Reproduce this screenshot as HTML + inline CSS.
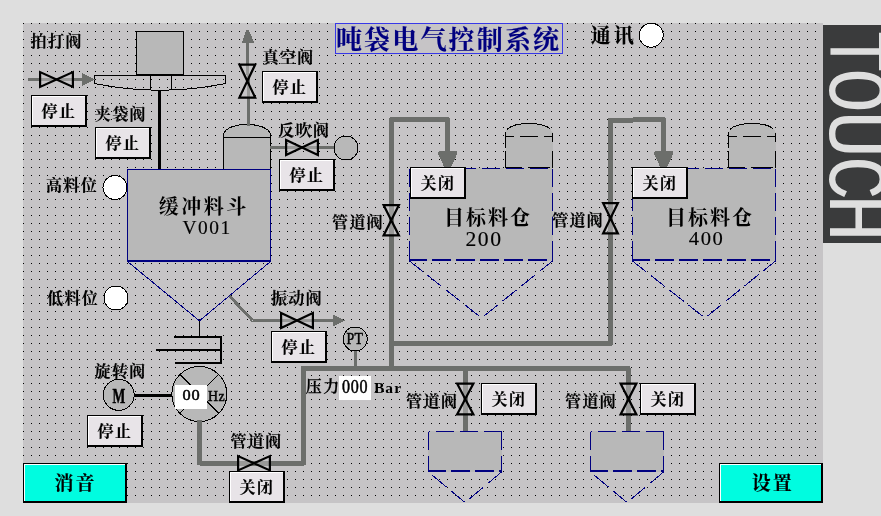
<!DOCTYPE html>
<html lang="zh-CN"><head><meta charset="utf-8"><title>吨袋电气控制系统</title>
<style>
html,body{margin:0;padding:0;background:#dedede;overflow:hidden}
svg{display:block;will-change:transform}
text{font-family:"Liberation Serif","Noto Serif CJK SC",serif;stroke:#000;stroke-width:0} text.navy{stroke:#000080} text.sans,text.mono{stroke:none} text.sans{font-family:"Liberation Sans","Noto Sans CJK SC",sans-serif} text.mono{font-family:"Liberation Mono","Noto Sans CJK SC",monospace}
</style></head><body>
<svg width="881" height="516" viewBox="0 0 881 516" shape-rendering="crispEdges">
<defs><pattern id="dots" x="23" y="23" width="8" height="8" patternUnits="userSpaceOnUse"><rect x="0" y="0" width="1" height="1" fill="#000"/></pattern>
</defs>
<rect x="0" y="0" width="881" height="516" fill="#dedede"/>
<rect x="23" y="23" width="800" height="480" fill="#c6c4c6"/>
<rect x="23" y="23" width="800" height="480" fill="url(#dots)"/>
<rect x="823" y="25" width="58" height="218" fill="#3a3b3c"/>
<text class="mono" transform="translate(829.8,0) rotate(90)" y="0" font-size="84" fill="#dedede"><tspan x="29.9" textLength="43" lengthAdjust="spacingAndGlyphs">T</tspan><tspan x="68" textLength="45" lengthAdjust="spacingAndGlyphs">O</tspan><tspan x="110.5" textLength="47.5" lengthAdjust="spacingAndGlyphs">U</tspan><tspan x="156" textLength="44" lengthAdjust="spacingAndGlyphs">C</tspan><tspan x="194" textLength="48" lengthAdjust="spacingAndGlyphs">H</tspan></text>
<rect x="335.5" y="23.5" width="227" height="30" fill="#c6c4c6" stroke="#3838e8" stroke-width="1"/>
<text class="navy" x="335.95" y="49.35" font-size="26" font-weight="700" letter-spacing="2.16" fill="#000080" style="stroke-width:0.15px">吨袋电气控制系统</text>
<text x="590.80" y="42.90" font-size="20" font-weight="700" letter-spacing="3.0" style="stroke-width:0.15px">通讯</text>
<circle cx="651.2" cy="35.2" r="12" fill="#fff" stroke="#000" stroke-width="1"/>
<text x="30.62" y="47.25" font-size="16" font-weight="700" letter-spacing="1.4" style="stroke-width:0.15px">拍打阀</text>
<rect x="136.5" y="31.5" width="47" height="43" fill="#b8b8b8" stroke="#000"/>
<path d="M94.5 83.5V75.5H225.5V83.5Q160 97 94.5 83.5 M150.5 75.5V90 M171.5 75.5V90" fill="none" stroke="#000" stroke-width="1"/>
<path d="M136 75H184" stroke="#000" stroke-width="2" fill="none"/>
<path d="M28 79.5H84" fill="none" stroke="#6c6e6b" stroke-width="3" stroke-linejoin="round" />
<path d="M82.1 73L94.8 79.45L82.1 85.9Z" fill="#6c6e6b"/>
<path d="M40.1 72.1L40.1 86.9L56.5 79.5Z M72.9 72.1L72.9 86.9L56.5 79.5Z" fill="#c6c4c6" fill-opacity="0.5" stroke="#000" stroke-width="2.2" stroke-linejoin="miter" shape-rendering="geometricPrecision"/>
<rect x="31" y="95" width="56" height="32" fill="#000"/><rect x="32" y="96" width="53" height="29" fill="#fff"/><rect x="33" y="97" width="52" height="28" fill="#e8e4e8"/>
<text x="41.50" y="117.00" font-size="16" font-weight="700" letter-spacing="1.4" style="stroke-width:0.15px">停止</text>
<text x="94.80" y="120.15" font-size="16" font-weight="700" letter-spacing="1.4" style="stroke-width:0.15px">夹袋阀</text>
<rect x="95" y="127" width="56" height="32" fill="#000"/><rect x="96" y="128" width="53" height="29" fill="#fff"/><rect x="97" y="129" width="52" height="28" fill="#e8e4e8"/>
<text x="105.50" y="149.00" font-size="16" font-weight="700" letter-spacing="1.4" style="stroke-width:0.15px">停止</text>
<path d="M159.5 90V169" fill="none" stroke="#000" stroke-width="3" stroke-linejoin="round" />
<text x="46.00" y="191.25" font-size="16" font-weight="700" letter-spacing="1.4" style="stroke-width:0.15px">高料位</text>
<circle cx="115" cy="187.5" r="12" fill="#fff" stroke="#000" stroke-width="1"/>
<text x="47.05" y="303.60" font-size="16" font-weight="700" letter-spacing="1.4" style="stroke-width:0.15px">低料位</text>
<circle cx="116" cy="298" r="12" fill="#fff" stroke="#000" stroke-width="1"/>
<path d="M223.5 169V134.2C227 121.2 267 121.2 270.5 134.2V169Z M223.5 137.5H270.5" fill="#b8b8b8" stroke="#000" stroke-width="1"/>
<path d="M247.6 40L248.6 126" fill="none" stroke="#6c6e6b" stroke-width="3" stroke-linejoin="round" />
<path d="M241.9 42.7L246.4 30H248.8L254.1 42.7Z" fill="#6c6e6b"/>
<path d="M239.4 64.6L255.20000000000002 64.6L247.3 81.1Z M239.4 97.60000000000001L255.20000000000002 97.60000000000001L247.3 81.1Z" fill="#c6c4c6" fill-opacity="0.5" stroke="#000" stroke-width="2.2" stroke-linejoin="miter" shape-rendering="geometricPrecision"/>
<text x="262.38" y="63.25" font-size="16" font-weight="700" letter-spacing="1.4" style="stroke-width:0.15px">真空阀</text>
<rect x="262" y="71" width="56" height="32" fill="#000"/><rect x="263" y="72" width="53" height="29" fill="#fff"/><rect x="264" y="73" width="52" height="28" fill="#e8e4e8"/>
<text x="272.50" y="93.00" font-size="16" font-weight="700" letter-spacing="1.4" style="stroke-width:0.15px">停止</text>
<text x="278.25" y="135.50" font-size="16" font-weight="700" letter-spacing="1.4" style="stroke-width:0.15px">反吹阀</text>
<path d="M270 147.5H335" fill="none" stroke="#6c6e6b" stroke-width="3" stroke-linejoin="round" />
<path d="M286.1 140.1L286.1 154.9L302.0 147.5Z M317.9 140.1L317.9 154.9L302.0 147.5Z" fill="#c6c4c6" fill-opacity="0.5" stroke="#000" stroke-width="2.2" stroke-linejoin="miter" shape-rendering="geometricPrecision"/>
<circle cx="346" cy="148" r="12" fill="#b8b8b8" stroke="#000" stroke-width="1"/>
<rect x="279" y="159" width="56" height="32" fill="#000"/><rect x="280" y="160" width="53" height="29" fill="#fff"/><rect x="281" y="161" width="52" height="28" fill="#e8e4e8"/>
<text x="289.50" y="181.00" font-size="16" font-weight="700" letter-spacing="1.4" style="stroke-width:0.15px">停止</text>
<rect x="127.5" y="169.5" width="143" height="91.5" fill="#b8b8b8" stroke="#000080" stroke-width="1"/>
<path d="M127 260.5H271" stroke="#000080" stroke-width="2" fill="none"/>
<path d="M127.5 261.5L199.4 320.8L270.5 261.5" stroke="#000080" stroke-width="1" fill="none"/>
<text x="158.75" y="213.80" font-size="20" font-weight="700" letter-spacing="2.5">缓冲料斗</text>
<text transform="translate(182.50,233.80) scale(0.998,1)" font-size="19.46" font-weight="400" letter-spacing="1.5" style="stroke-width:0.15px">V001</text>
<path d="M199.5 320.5V336" stroke="#000" stroke-width="1" fill="none"/>
<path d="M174 337H221V363H175 M156 350H221" stroke="#000" stroke-width="2" fill="none" stroke-linejoin="miter"/>
<circle cx="199.3" cy="394" r="27.5" fill="#b8b8b8" stroke="#000" stroke-width="1"/>
<path d="M179.8 374.5L218.8 413.5 M218.8 374.5L179.8 413.5" stroke="#000" stroke-width="1" fill="none"/>
<rect x="175" y="385" width="32" height="24" fill="#fff"/>
<text transform="translate(182.40,400.35) scale(1.075,1)" font-size="15.2" font-weight="400" letter-spacing="0.8" style="stroke-width:0.5px">00</text>
<text transform="translate(208.10,401.30) scale(0.911,1)" font-size="15.25" font-weight="400" letter-spacing="0.5" style="stroke-width:0.5px">Hz</text>
<circle cx="118.7" cy="394.8" r="15.5" fill="#b8b8b8" stroke="#000" stroke-width="1"/>
<text transform="translate(112.50,403.15) scale(0.668,1)" font-size="20.28" font-weight="700" style="stroke-width:0.5px">M</text>
<path d="M134.5 395.3H172" fill="none" stroke="#000" stroke-width="3" stroke-linejoin="round" />
<text x="94.50" y="377.38" font-size="16" font-weight="700" letter-spacing="1.4" style="stroke-width:0.15px">旋转阀</text>
<rect x="87" y="415" width="56" height="32" fill="#000"/><rect x="88" y="416" width="53" height="29" fill="#fff"/><rect x="89" y="417" width="52" height="28" fill="#e8e4e8"/>
<text x="97.50" y="437.00" font-size="16" font-weight="700" letter-spacing="1.4" style="stroke-width:0.15px">停止</text>
<path d="M229.5 296L252.5 320.5H334" fill="none" stroke="#6c6e6b" stroke-width="3" stroke-linejoin="round" />
<path d="M332.5 314L345.3 320.5L332.5 327Z" fill="#6c6e6b"/>
<path d="M281.1 313.1L281.1 327.9L297.0 320.5Z M312.9 313.1L312.9 327.9L297.0 320.5Z" fill="#c6c4c6" fill-opacity="0.5" stroke="#000" stroke-width="2.2" stroke-linejoin="miter" shape-rendering="geometricPrecision"/>
<text x="270.88" y="303.50" font-size="16" font-weight="700" letter-spacing="1.4" style="stroke-width:0.15px">振动阀</text>
<rect x="271" y="331" width="56" height="32" fill="#000"/><rect x="272" y="332" width="53" height="29" fill="#fff"/><rect x="273" y="333" width="52" height="28" fill="#e8e4e8"/>
<text x="281.50" y="353.00" font-size="16" font-weight="700" letter-spacing="1.4" style="stroke-width:0.15px">停止</text>
<path d="M355.5 350V367" fill="none" stroke="#6c6e6b" stroke-width="3" stroke-linejoin="round" />
<circle cx="355.2" cy="339" r="12" fill="#b8b8b8" stroke="#000" stroke-width="1"/>
<text transform="translate(346.40,344.05) scale(0.85,1)" font-size="16.2" font-weight="400" letter-spacing="0.5" style="stroke-width:0.5px">PT</text>
<text x="305.75" y="391.90" font-size="16" font-weight="600" letter-spacing="1.4" style="stroke-width:0.3px">压力</text>
<rect x="339" y="376" width="32" height="24" fill="#fff"/>
<text transform="translate(342.00,393.25) scale(0.879,1)" font-size="18.29" font-weight="400" letter-spacing="0.8" style="stroke-width:0.5px">000</text>
<text transform="translate(373.98,392.60) scale(1.02,1)" font-size="15.25" font-weight="700" letter-spacing="1">Bar</text>
<path d="M199.5 420V463H303.5V368H628V431" fill="none" stroke="#6c6e6b" stroke-width="5" stroke-linejoin="round" />
<path d="M465.5 368V431" fill="none" stroke="#6c6e6b" stroke-width="5" stroke-linejoin="round" />
<path d="M391.6 368V119.5H447.5V153" fill="none" stroke="#6c6e6b" stroke-width="5" stroke-linejoin="round" />
<path d="M440.5 153.4L454.7 153.4L447.6 168.3Z" fill="#6c6e6b" stroke="#6c6e6b" stroke-width="5" stroke-linejoin="round"/>
<path d="M391.5 343.5H610.2V120.3L663.7 119.6V153" fill="none" stroke="#6c6e6b" stroke-width="5" stroke-linejoin="round" />
<path d="M656.5 153.4L670.7 153.4L663.6 168.3Z" fill="#6c6e6b" stroke="#6c6e6b" stroke-width="5" stroke-linejoin="round"/>
<path d="M505.5 168V132C509 120.7 549 120.7 552.5 132V168Z" fill="#b8b8b8" stroke="none"/>
<path d="M505.5 132C509 120.7 549 120.7 552.5 132" fill="none" stroke="#000" stroke-width="1" stroke-dasharray="0 3 45 100"/>
<path d="M505.5 132V147.5 M505.5 150.5V168 M552.5 133V142 M552.5 150.5V168 M505.5 136.5H514.0 M520.0 136.5H538.0 M544.0 136.5H552.5 M505.5 167.5H522.0 M528.0 167.5H549.5" fill="none" stroke="#000" stroke-width="1"/>
<rect x="409" y="168" width="144" height="93" fill="#b8b8b8"/>
<path d="M409.5 168.5H552.5 M409.5 168.5V260.5 M552.5 168.5V260.5" fill="none" stroke="#000080" stroke-width="1" stroke-dasharray="18 6"/>
<path d="M409 260H553" fill="none" stroke="#000080" stroke-width="2" stroke-dasharray="19 5" stroke-dashoffset="1"/>
<path d="M481.5 318L409.5 261 M481.5 318L552.5 261" fill="none" stroke="#000080" stroke-width="1" stroke-dasharray="18 6" stroke-dashoffset="21"/>
<path d="M728.5 168V132C732 120.7 772 120.7 775.5 132V168Z" fill="#b8b8b8" stroke="none"/>
<path d="M728.5 132C732 120.7 772 120.7 775.5 132" fill="none" stroke="#000" stroke-width="1" stroke-dasharray="0 3 45 100"/>
<path d="M728.5 132V147.5 M728.5 150.5V168 M775.5 133V142 M775.5 150.5V168 M728.5 136.5H737.0 M743.0 136.5H761.0 M767.0 136.5H775.5 M728.5 167.5H745.0 M751.0 167.5H772.5" fill="none" stroke="#000" stroke-width="1"/>
<rect x="632" y="168" width="144" height="93" fill="#b8b8b8"/>
<path d="M632.5 168.5H775.5 M632.5 168.5V260.5 M775.5 168.5V260.5" fill="none" stroke="#000080" stroke-width="1" stroke-dasharray="18 6"/>
<path d="M632 260H776" fill="none" stroke="#000080" stroke-width="2" stroke-dasharray="19 5" stroke-dashoffset="1"/>
<path d="M705 318L632.5 261 M705 318L775.5 261" fill="none" stroke="#000080" stroke-width="1" stroke-dasharray="18 6" stroke-dashoffset="21"/>
<rect x="410" y="167" width="56" height="32" fill="#000"/><rect x="411" y="168" width="53" height="29" fill="#fff"/><rect x="412" y="169" width="52" height="28" fill="#e8e4e8"/>
<text x="420.55" y="189.15" font-size="16" font-weight="700" letter-spacing="1.4" style="stroke-width:0.15px">关闭</text>
<rect x="632" y="167" width="56" height="32" fill="#000"/><rect x="633" y="168" width="53" height="29" fill="#fff"/><rect x="634" y="169" width="52" height="28" fill="#e8e4e8"/>
<text x="642.55" y="189.15" font-size="16" font-weight="700" letter-spacing="1.4" style="stroke-width:0.15px">关闭</text>
<text x="443.90" y="225.35" font-size="20" font-weight="700" letter-spacing="2.0">目标料仓</text>
<text transform="translate(465.45,246.20) scale(1.053,1)" font-size="20.6" font-weight="400" letter-spacing="1.5" style="stroke-width:0.15px">200</text>
<text x="665.90" y="224.55" font-size="20" font-weight="700" letter-spacing="2.0">目标料仓</text>
<text transform="translate(688.80,244.60) scale(1.044,1)" font-size="19.73" font-weight="400" letter-spacing="1.5" style="stroke-width:0.15px">400</text>
<text x="332.00" y="227.90" font-size="16" font-weight="700" letter-spacing="1.4" style="stroke-width:0.15px">管道阀</text>
<path d="M383.6 205.1L398.9 205.1L391.25 220.25Z M383.6 235.4L398.9 235.4L391.25 220.25Z" fill="#c6c4c6" fill-opacity="0.5" stroke="#000" stroke-width="2.2" stroke-linejoin="miter" shape-rendering="geometricPrecision"/>
<text x="552.00" y="226.00" font-size="16" font-weight="700" letter-spacing="1.4" style="stroke-width:0.15px">管道阀</text>
<path d="M603.1 203.1L617.9 203.1L610.5 218.25Z M603.1 233.4L617.9 233.4L610.5 218.25Z" fill="#c6c4c6" fill-opacity="0.5" stroke="#000" stroke-width="2.2" stroke-linejoin="miter" shape-rendering="geometricPrecision"/>
<rect x="428" y="431" width="74" height="41" fill="#b8b8b8"/>
<path d="M501.5 431.5H428.5 M428.5 431.5V471.5 M501.5 431.5V471.5" fill="none" stroke="#000080" stroke-width="1" stroke-dasharray="18 6"/>
<path d="M428 471H502" fill="none" stroke="#000080" stroke-width="2" stroke-dasharray="19 5" stroke-dashoffset="1"/>
<path d="M501.5 472L465 502.5L428.5 472" fill="none" stroke="#000080" stroke-width="1" stroke-dasharray="18 6"/>
<rect x="590" y="431" width="74" height="41" fill="#b8b8b8"/>
<path d="M663.5 431.5H590.5 M590.5 431.5V471.5 M663.5 431.5V471.5" fill="none" stroke="#000080" stroke-width="1" stroke-dasharray="18 6"/>
<path d="M590 471H664" fill="none" stroke="#000080" stroke-width="2" stroke-dasharray="19 5" stroke-dashoffset="1"/>
<path d="M663.5 472L627 502.5L590.5 472" fill="none" stroke="#000080" stroke-width="1" stroke-dasharray="18 6"/>
<text x="406.12" y="407.00" font-size="16" font-weight="700" letter-spacing="1.4" style="stroke-width:0.15px">管道阀</text>
<path d="M457.1 383.6L473.4 383.6L465.25 399.0Z M457.1 414.4L473.4 414.4L465.25 399.0Z" fill="#c6c4c6" fill-opacity="0.5" stroke="#000" stroke-width="2.2" stroke-linejoin="miter" shape-rendering="geometricPrecision"/>
<rect x="481" y="383" width="56" height="32" fill="#000"/><rect x="482" y="384" width="53" height="29" fill="#fff"/><rect x="483" y="385" width="52" height="28" fill="#e8e4e8"/>
<text x="491.55" y="405.15" font-size="16" font-weight="700" letter-spacing="1.4" style="stroke-width:0.15px">关闭</text>
<text x="565.00" y="407.00" font-size="16" font-weight="700" letter-spacing="1.4" style="stroke-width:0.15px">管道阀</text>
<path d="M620.6 383.6L636.4 383.6L628.5 399.0Z M620.6 414.4L636.4 414.4L628.5 399.0Z" fill="#c6c4c6" fill-opacity="0.5" stroke="#000" stroke-width="2.2" stroke-linejoin="miter" shape-rendering="geometricPrecision"/>
<rect x="640" y="383" width="56" height="32" fill="#000"/><rect x="641" y="384" width="53" height="29" fill="#fff"/><rect x="642" y="385" width="52" height="28" fill="#e8e4e8"/>
<text x="650.55" y="405.15" font-size="16" font-weight="700" letter-spacing="1.4" style="stroke-width:0.15px">关闭</text>
<text x="230.38" y="447.00" font-size="16" font-weight="700" letter-spacing="1.4" style="stroke-width:0.15px">管道阀</text>
<path d="M238.1 456.1L238.1 470.4L254.0 463.25Z M269.9 456.1L269.9 470.4L254.0 463.25Z" fill="#c6c4c6" fill-opacity="0.5" stroke="#000" stroke-width="2.2" stroke-linejoin="miter" shape-rendering="geometricPrecision"/>
<rect x="229" y="471" width="56" height="32" fill="#000"/><rect x="230" y="472" width="53" height="29" fill="#fff"/><rect x="231" y="473" width="52" height="28" fill="#e8e4e8"/>
<text x="239.55" y="493.15" font-size="16" font-weight="700" letter-spacing="1.4" style="stroke-width:0.15px">关闭</text>
<rect x="23" y="463" width="104" height="40" fill="#000"/><rect x="24" y="464" width="101" height="37" fill="#fff"/><rect x="25" y="465" width="100" height="36" fill="#00fce0"/>
<text x="54.60" y="489.75" font-size="19" font-weight="700" letter-spacing="2" style="stroke-width:0.15px">消音</text>
<rect x="719" y="463" width="104" height="40" fill="#000"/><rect x="720" y="464" width="101" height="37" fill="#fff"/><rect x="721" y="465" width="100" height="36" fill="#00fce0"/>
<text x="751.75" y="490.00" font-size="19" font-weight="700" letter-spacing="2" style="stroke-width:0.15px">设置</text>
</svg>
</body></html>
